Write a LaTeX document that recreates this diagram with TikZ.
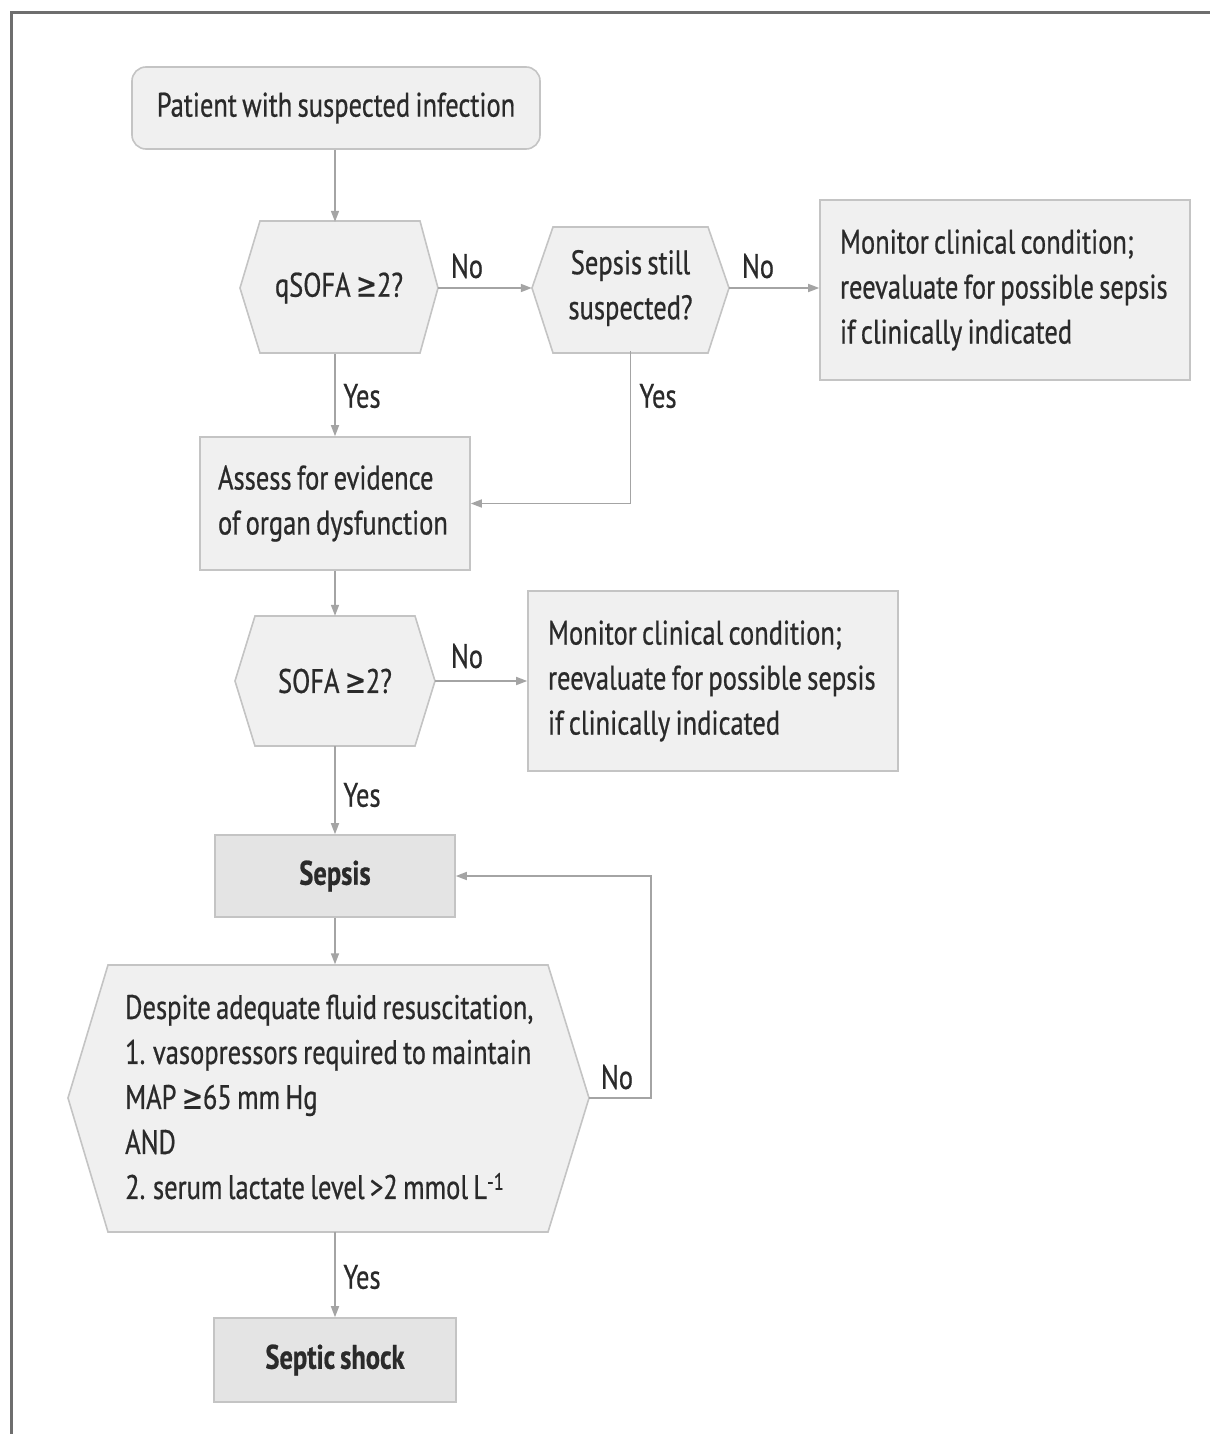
\documentclass[tikz,border=0pt]{standalone}
\usepackage{fontspec}
\setmainfont{PT Sans}[FakeStretch=0.78, WordSpace=0.75, FakeBold=0.6]
\newfontfamily\symfont{DejaVu Sans}[FakeStretch=0.74, FakeBold=0.3]
\newcommand{\geqsym}{{\symfont ≥}}
\usetikzlibrary{arrows.meta}
\definecolor{txt}{HTML}{2A2A2A}
\definecolor{boxfill}{HTML}{F0F0F0}
\definecolor{darkfill}{HTML}{E4E4E4}
\definecolor{boxline}{HTML}{C4C4C4}
\definecolor{conn}{HTML}{A4A4A4}
\definecolor{framec}{HTML}{6E6E6E}
\begin{document}
\begin{tikzpicture}[x=1pt,y=-1pt,
  every node/.style={font=\fontsize{34}{45}\selectfont, text=txt},
  box/.style={draw=boxline, fill=boxfill, line width=1.6pt, inner sep=0pt},
  darkbox/.style={box, fill=darkfill, font=\bfseries\fontsize{34}{45}\selectfont},
  hexfill/.style={draw=boxline, fill=boxfill, line width=1.6pt, line join=miter},
  hextext/.style={draw=none, inner sep=0pt, align=center},
  lefttext/.style={align=left, inner ysep=0pt,
    execute at begin node={\spaceskip=0pt\xspaceskip=0pt}},
  arr/.style={draw=conn, line width=1.6pt, -{Triangle[length=11pt,width=8pt]}},
  lbl/.style={inner sep=0pt}
]
\useasboundingbox (0,0) rectangle (1210,1434);
\fill[white] (0,0) rectangle (1210,1434);
\draw[framec, line width=3pt] (11,1434) -- (11,13) -- (1210,13);

% start
\node[box, rounded corners=14pt, minimum width=408, minimum height=82] (start) at (336,108) {Patient with suspected infection};

% qSOFA hexagon
\path[hexfill] (240,288) -- (260,221) -- (420,221) -- (438,288) -- (420,353) -- (260,353) -- cycle;
\node[hextext, minimum width=198, minimum height=132] (q) at (339,288) {qSOFA \geqsym2?};

% Sepsis still suspected hexagon
\path[hexfill] (532,288) -- (553,227) -- (708,227) -- (729,288) -- (708,353) -- (553,353) -- cycle;
\node[hextext, minimum width=197, minimum height=126] (s) at (630.5,288) {Sepsis still\\suspected?};

% Monitor 1
\node[box, lefttext, text width=330, inner xsep=20pt, minimum height=180] (m1) at (1005,290)
  {Monitor clinical condition;\\reevaluate for possible sepsis\\if clinically indicated};

% Assess
\node[box, lefttext, text width=234, inner xsep=18pt, minimum height=133] (assess) at (335,503.5)
  {Assess for evidence\\of organ dysfunction};

% SOFA hexagon
\path[hexfill] (235,681) -- (255,616) -- (415,616) -- (435,681) -- (415,746) -- (255,746) -- cycle;
\node[hextext, minimum width=200, minimum height=130] (sofa) at (335,681) {SOFA \geqsym2?};

% Monitor 2
\node[box, lefttext, text width=330, inner xsep=20pt, minimum height=180] (m2) at (713,681)
  {Monitor clinical condition;\\reevaluate for possible sepsis\\if clinically indicated};

% Sepsis
\node[darkbox, minimum width=240, minimum height=82] (sepsis) at (335,876) {Sepsis};

% Big hexagon
\path[hexfill] (68,1098) -- (108,965) -- (548,965) -- (589,1098) -- (548,1232) -- (108,1232) -- cycle;
\node[hextext, minimum width=521, minimum height=267] (d) at (328.5,1098) {};
\node[lefttext, inner xsep=0pt, text width=430, anchor=west] (dtext) at (125,1097)
  {Despite adequate fluid resuscitation,\\1. vasopressors required to maintain\\MAP \geqsym65 mm Hg\\AND\\2. serum lactate level >2 mmol L\textsuperscript{-1}};

% Septic shock
\node[darkbox, minimum width=242, minimum height=84] (shock) at (335,1360) {Septic shock};

% connectors
\draw[arr] (start.south -| assess.north) -- (q.north -| assess.north);
\draw[arr] (q.east) -- (s.west);
\draw[arr] (s.east) -- (s.east -| m1.west);
\draw[arr] (q.south -| assess.north) -- (assess.north);
\draw[arr] (s.south) |- (assess.east);
\draw[arr] (assess.south) -- (sofa.north);
\draw[arr] (sofa.east) -- (sofa.east -| m2.west);
\draw[arr] (sofa.south) -- (sepsis.north);
\draw[arr] (sepsis.south) -- (d.north -| sepsis.south);
\draw[arr] (d.east) -- ++(62,0) |- (sepsis.east);
\draw[arr] (d.south -| shock.north) -- (shock.north);

% labels
\node[lbl] (l1) at (467,266) {No};
\node[lbl] (l2) at (758,266) {No};
\node[lbl] (l3) at (362,396) {Yes};
\node[lbl] (l4) at (658,396) {Yes};
\node[lbl] (l5) at (467,656) {No};
\node[lbl] (l6) at (362,795) {Yes};
\node[lbl] (l7) at (617,1077) {No};
\node[lbl] (l8) at (362,1277) {Yes};
\end{tikzpicture}
\end{document}
